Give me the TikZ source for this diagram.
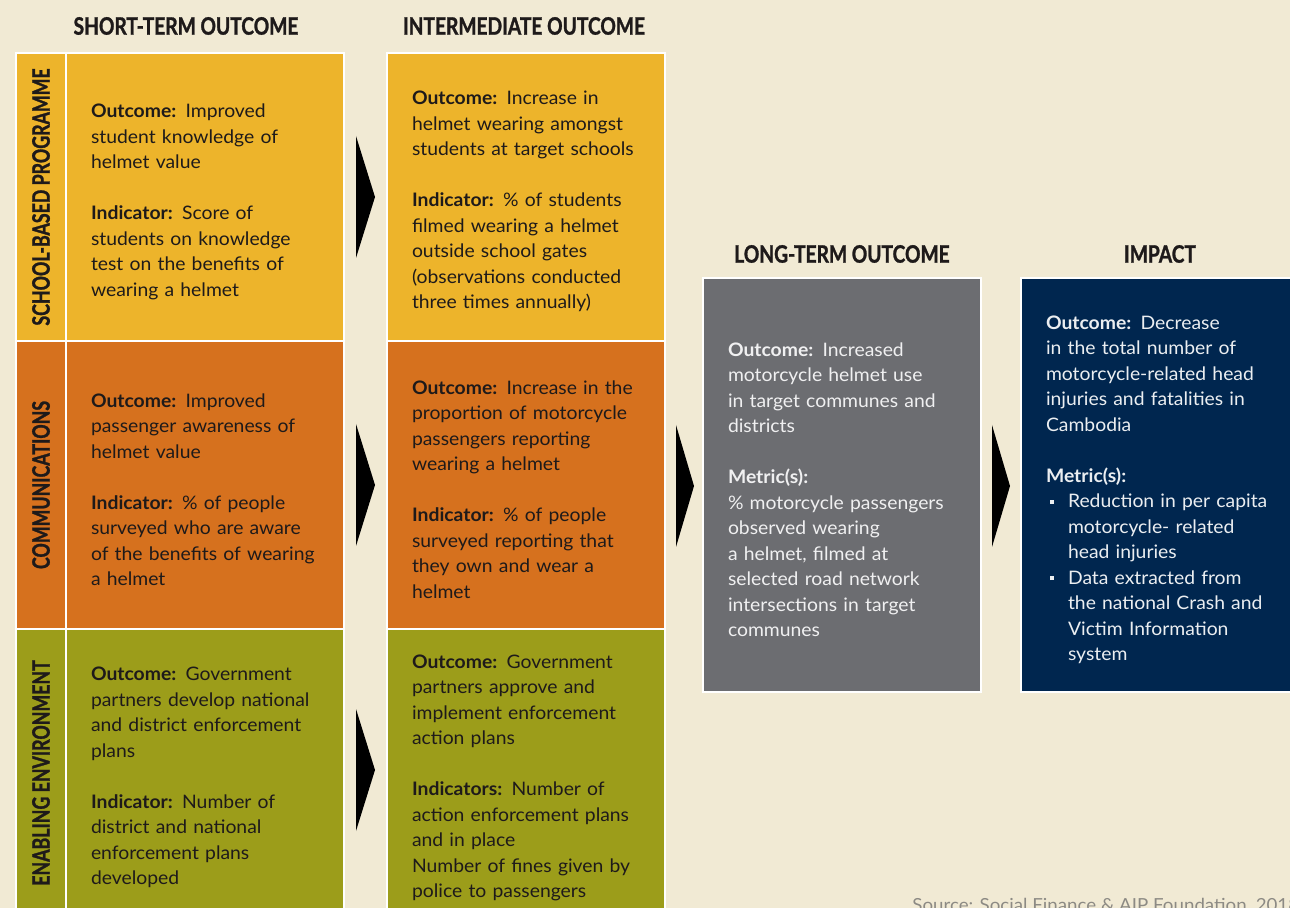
\documentclass[tikz,border=0pt]{standalone}
\usepackage{fontspec}
\setmainfont{Lato}[FakeStretch=1.04]
\newfontfamily\headfont[FakeStretch=0.8, FakeBold=1.2]{Lato}
\newfontfamily\sidefont[FakeStretch=0.74, FakeBold=1.2]{Lato}
\usetikzlibrary{positioning}

\definecolor{bg}{HTML}{F1EAD4}
\definecolor{school}{HTML}{EDB42B}
\definecolor{comms}{HTML}{D6711E}
\definecolor{enable}{HTML}{9C9D1A}
\definecolor{longterm}{HTML}{6C6D71}
\definecolor{impact}{HTML}{00264F}
\definecolor{ink}{HTML}{1E1A1A}
\definecolor{source}{HTML}{8C8A84}

\newcommand{\gap}{\\[12.75pt]}
\newcommand{\bul}{\makebox[11pt][l]{\hspace{2pt}\rule[2pt]{2pt}{2pt}}}
\newcommand{\ind}{\hspace*{11pt}}

\begin{document}
\begin{tikzpicture}[x=0.5pt,y=-0.5pt,
  head/.style={font=\headfont\bfseries\fontsize{12}{14}\selectfont, text=ink},
  strip/.style={draw=white, line width=1pt, minimum width=25pt, minimum height=144pt, inner sep=0pt},
  side/.style={font=\sidefont\bfseries\fontsize{12}{14}\selectfont, text=ink, rotate=90},
  box/.style={draw=white, line width=1pt, text width=114pt, inner xsep=12.5pt, inner ysep=0pt,
    minimum width=139pt, minimum height=144pt, align=left, text=ink,
    font=\fontsize{9.3}{12.75}\selectfont, execute at begin node={\rule{0pt}{11.5pt}}},
  tallbox/.style={box, minimum height=207pt, text=white}]

  \useasboundingbox (0,0) rectangle (1290,908);
  \clip (0,0) rectangle (1290,908);
  \fill[bg] (0,0) rectangle (1290,908);

  % column headers
  \node[head] (h1) at (186,26) {SHORT-TERM OUTCOME};
  \node[head] (h2) at (524,26) {INTERMEDIATE OUTCOME};
  \node[head] (h3) at (842,254) {LONG-TERM OUTCOME};
  \node[head] (h4) at (1160,254) {IMPACT};

  % row strips
  \node[strip, fill=school] (lab1) at (41,197) {};
  \node[strip, fill=comms] (lab2) at (41,485) {};
  \node[strip, fill=enable] (lab3) at (41,773) {};
  \node[side] at (lab1) {SCHOOL-BASED PROGRAMME};
  \node[side] at (lab2) {COMMUNICATIONS};
  \node[side] at (lab3) {ENABLING ENVIRONMENT};

  % short-term outcomes
  \node[box, fill=school] (st1) at (205,197) {\textbf{Outcome:} Improved\\ student knowledge of\\ helmet value\gap
    \textbf{Indicator:} Score of\\ students on knowledge\\ test on the benefits of\\ wearing a helmet};
  \node[box, fill=comms] (st2) at (205,485) {\textbf{Outcome:} Improved\\ passenger awareness of\\ helmet value\gap
    \textbf{Indicator:} \% of people\\ surveyed who are aware\\ of the benefits of wearing\\ a helmet};
  \node[box, fill=enable] (st3) at (205,773) {\textbf{Outcome:} Government\\ partners develop national\\ and district enforcement\\ plans\gap
    \textbf{Indicator:} Number of\\ district and national\\ enforcement plans\\ developed};

  % intermediate outcomes
  \node[box, fill=school] (im1) at (526,197) {\textbf{Outcome:} Increase in\\ helmet wearing amongst\\ students at target schools\gap
    \textbf{Indicator:} \% of students\\ filmed wearing a helmet\\ outside school gates\\ (observations conducted\\ three times annually)};
  \node[box, fill=comms] (im2) at (526,485) {\textbf{Outcome:} Increase in the\\ proportion of motorcycle\\ passengers reporting\\ wearing a helmet\gap
    \textbf{Indicator:} \% of people\\ surveyed reporting that\\ they own and wear a\\ helmet};
  \node[box, fill=enable] (im3) at (526,773) {\textbf{Outcome:} Government\\ partners approve and\\ implement enforcement\\ action plans\gap
    \textbf{Indicators:} Number of\\ action enforcement plans\\ and in place\\ Number of fines given by\\ police to passengers};

  % long-term outcome and impact
  \node[tallbox, fill=longterm, text=white!90!longterm] (lt) at (842,485) {\textbf{Outcome:} Increased\\ motorcycle helmet use\\ in target communes and\\ districts\gap
    \textbf{Metric(s):}\\ \% motorcycle passengers\\ observed wearing\\ a helmet, filmed at\\ selected road network\\ intersections in target\\ communes};
  \node[tallbox, fill=impact, text=white!92!impact] (imp) at (1160,485) {\textbf{Outcome:} Decrease\\ in the total number of\\ motorcycle-related head\\ injuries and fatalities in\\ Cambodia\gap
    \textbf{Metric(s):}\\ \bul Reduction in per capita\\ \ind motorcycle- related\\ \ind head injuries\\ \bul Data extracted from\\ \ind the national Crash and\\ \ind Victim Information\\ \ind system};

  % chevrons
  \foreach \y in {197,485,770}
    \fill[black] (356,\y-61) -- (375,\y) -- (356,\y+61) -- cycle;
  \fill[black] (676,425) -- (694,486) -- (676,547) -- cycle;
  \fill[black] (992,425) -- (1010,486) -- (992,547) -- cycle;

  \node[anchor=base west, text=source, font=\fontsize{9}{11}\selectfont, inner sep=0pt] (src) at (912,911) {Source: Social Finance \& AIP Foundation, 2018};

\end{tikzpicture}
\end{document}
